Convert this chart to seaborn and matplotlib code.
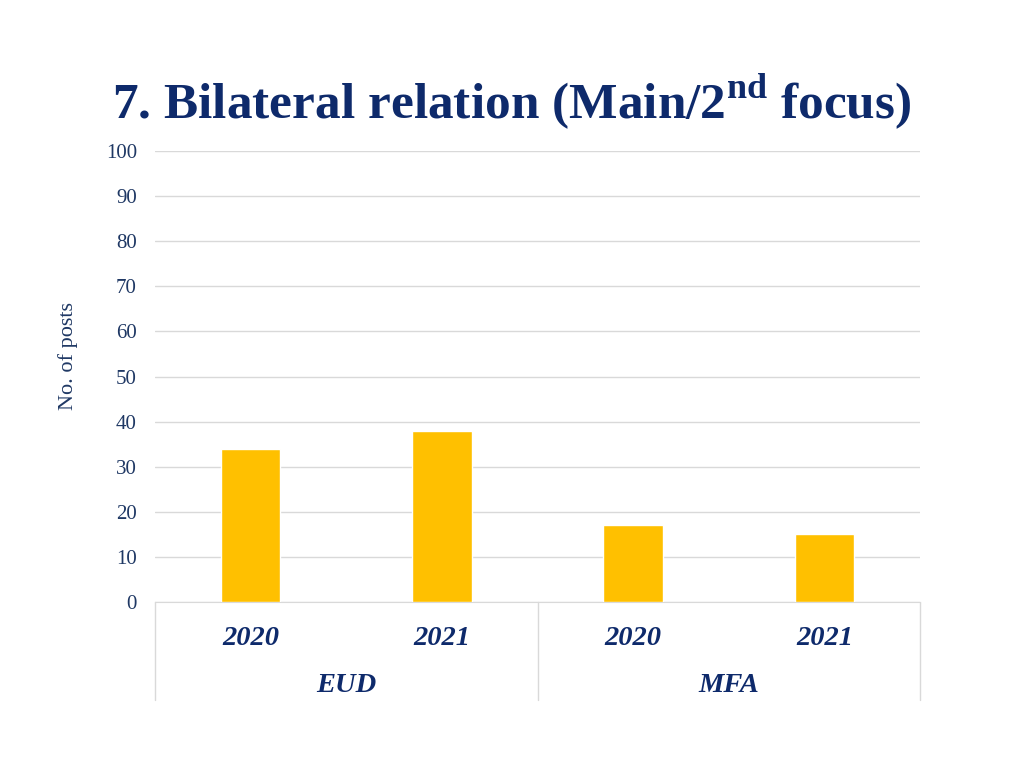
"""
Bilateral relation bar chart (main / 2nd focus)
"""

import numpy as np
import matplotlib.pyplot as plt
import matplotlib.transforms as mtransforms
import seaborn as sns
import pandas as pd

# data
groups = ['EUD', 'EUD', 'MFA', 'MFA']
years = ['2020', '2021', '2020', '2021']
posts = [34, 38, 17, 15]
group_names = ['EUD', 'MFA']

BAR = '#FFC000'
NAVY = '#0E2A6B'
TICK = '#1F3864'
GRID = '#D9D9D9'

df = pd.DataFrame({'slot': [f'{g} {y}' for g, y in zip(groups, years)],
                   'posts': posts})

sns.set_style('white')
plt.rcParams['font.family'] = ['Liberation Serif', 'DejaVu Serif']
plt.rcParams['mathtext.fontset'] = 'custom'
plt.rcParams['mathtext.bf'] = 'Liberation Serif:bold'
plt.rcParams['mathtext.rm'] = 'Liberation Serif'

fig = plt.figure(figsize=(10.24, 7.68), dpi=100)
ax = fig.add_axes([155 / 1024, 1 - 602 / 768, 765 / 1024, 451 / 768])

sns.barplot(data=df, x='slot', y='posts', color=BAR, width=0.31,
            saturation=1, ax=ax, zorder=3)

ax.set_ylim(0, 100)
ax.set_xlim(-0.5, len(df) - 0.5)
ax.set_yticks(np.arange(0, 101, 10))
ax.yaxis.grid(True, color=GRID, linewidth=1, zorder=0)
ax.tick_params(axis='y', length=0, pad=13, labelsize=15, labelcolor=TICK)
ax.tick_params(axis='x', length=0, pad=17)
ax.set_xticks(range(len(df)))
ax.set_xticklabels(years, fontsize=20.5, fontweight='bold', fontstyle='italic',
                   color=NAVY)
ax.set_xlabel('')
ax.set_ylabel('')
for side in ['top', 'right', 'left']:
    ax.spines[side].set_visible(False)
ax.spines['bottom'].set_color(GRID)

# group labels and separators under the axis
trans = mtransforms.blended_transform_factory(ax.transData, ax.transAxes)
depth = (700 - 602) / 451
for x in [-0.5, 1.5, 3.5]:
    ax.plot([x, x], [0, -depth], color=GRID, linewidth=1,
            transform=trans, clip_on=False)
for i, name in enumerate(group_names):
    ax.text(2 * i + 0.5, -(686 - 602) / 451, name, transform=trans,
            ha='center', va='center', fontsize=20.5, fontweight='bold',
            fontstyle='italic', color=NAVY)

fig.text(68 / 1024, 1 - 356 / 768, 'No. of posts', rotation=90,
         ha='center', va='center', fontsize=16, color=TICK)

fig.text(512 / 1024, 1 - 102 / 768,
         r'7. Bilateral relation (Main/2$^{\mathbf{nd}}$ focus)',
         ha='center', va='center', fontsize=37, fontweight='bold', color=NAVY)

plt.savefig('out.png', dpi=100)
plt.close()
